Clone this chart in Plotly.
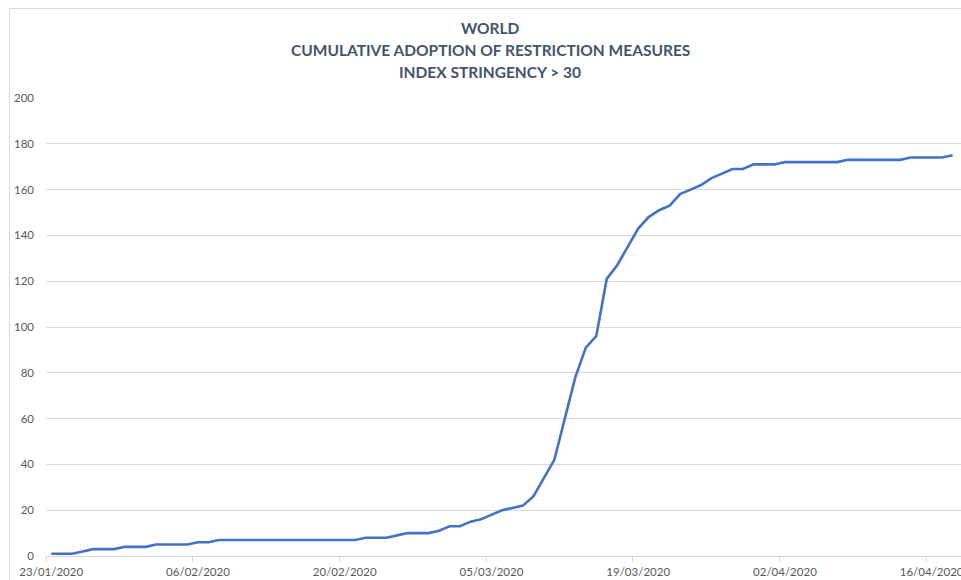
import pandas as pd
import plotly.graph_objects as go

start_date = "2020-01-23"
values = [1, 1, 1, 2, 3, 3, 3, 4, 4, 4,
          5, 5, 5, 5, 6, 6, 7, 7, 7, 7,
          7, 7, 7, 7, 7, 7, 7, 7, 7, 7,
          8, 8, 8, 9, 10, 10, 10, 11, 13, 13,
          15, 16, 18, 20, 21, 22, 26, 34, 42, 60,
          78, 91, 96, 121, 127, 135, 143, 148, 151, 153,
          158, 160, 162, 165, 167, 169, 169, 171, 171, 171,
          172, 172, 172, 172, 172, 172, 173, 173, 173, 173,
          173, 173, 174, 174, 174, 174, 175]
dates = pd.date_range(start_date, periods=len(values), freq="D")

tick_dates = ["2020-01-23", "2020-02-06", "2020-02-20", "2020-03-05",
              "2020-03-19", "2020-04-02", "2020-04-16"]
tick_labels = ["23/01/2020", "06/02/2020", "20/02/2020", "05/03/2020",
               "19/03/2020", "02/04/2020", "16/04/2020"]
y_ticks = [0, 20, 40, 60, 80, 100, 120, 140, 160, 180, 200]

title_lines = ["WORLD", "CUMULATIVE ADOPTION OF RESTRICTION MEASURES", "INDEX STRINGENCY > 30"]

W, H = 961, 580
ML, MR, MT, MB = 46, 0, 98, 24
PW, PH = W - ML - MR, H - MT - MB
FONT = "Lato, 'Open Sans', sans-serif"
GRID = "#d9d9d9"
TXT = "#595959"


def px_x(p):
    return (p - ML) / PW


def px_y(p):
    return (H - MB - p) / PH


fig = go.Figure()
fig.add_trace(go.Scatter(x=dates, y=values, mode="lines",
                         line=dict(color="#4472C4", width=2.6),
                         hoverinfo="x+y", showlegend=False))

x0 = pd.Timestamp(start_date) - pd.Timedelta(hours=12)
x1 = pd.Timestamp(start_date) + pd.Timedelta(days=86.8)
minor_ticks = [pd.Timestamp(d) - pd.Timedelta(hours=12) for d in tick_dates]

fig.update_layout(
    width=W, height=H,
    margin=dict(l=ML, r=MR, t=MT, b=MB, pad=0, autoexpand=False),
    paper_bgcolor="white", plot_bgcolor="white",
    font=dict(family=FONT, size=11, color=TXT),
    xaxis=dict(type="date", range=[x0, x1], tickmode="array",
               tickvals=tick_dates, ticktext=tick_labels, automargin=False,
               showgrid=False, ticks="", showline=True, linecolor=GRID, linewidth=1,
               ticklabelstandoff=5, ticklabeloverflow="allow",
               tickfont=dict(size=11.5, color=TXT),
               minor=dict(tickmode="array", tickvals=minor_ticks, ticks="outside",
                          ticklen=5, tickcolor=GRID, showgrid=False),
               zeroline=False),
    yaxis=dict(range=[0, 200], tickmode="array", tickvals=y_ticks, automargin=False,
               showgrid=True, gridcolor=GRID, gridwidth=1, zeroline=False,
               showline=False, ticks="", ticklabelstandoff=11,
               tickfont=dict(size=11.5, color=TXT)),
)

title_y = [28, 50.5, 72.5]
for txt, ty in zip(title_lines, title_y):
    fig.add_annotation(text="<b>" + txt + "</b>", xref="paper", yref="paper",
                       x=px_x(490), y=px_y(ty), xanchor="center", yanchor="middle",
                       showarrow=False,
                       font=dict(family=FONT, size=15.5, color="#44546A"))

# chart-area border (left and top edges visible)
fig.add_shape(type="rect", xref="paper", yref="paper",
              x0=px_x(9.5), x1=px_x(W + 5), y0=px_y(H + 5), y1=px_y(8.5),
              line=dict(color=GRID, width=1), fillcolor="rgba(0,0,0,0)", layer="below")

fig.write_html("out.html")
